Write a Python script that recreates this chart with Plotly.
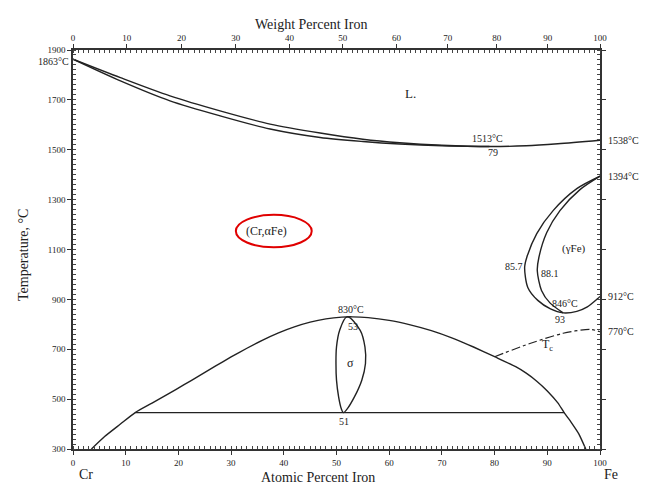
import plotly.graph_objects as go

# Cr-Fe phase diagram (temperature vs. atomic percent iron)

# Liquidus and solidus
liq_x = [0, 9, 18.4, 27.9, 37.4, 46.9, 55, 62, 70, 79, 86, 92, 100]
liq_t = [1863, 1789, 1716, 1656, 1603, 1567, 1542, 1528, 1518, 1513, 1516, 1524, 1538]
sol_x = [0, 9, 18.4, 27.9, 37.4, 46.9, 55, 62, 70, 79]
sol_t = [1863, 1776, 1696, 1636, 1583, 1549, 1533, 1523, 1516, 1513]

# Gamma loop
gam_out_x = [100, 95.6, 91.1, 88.0, 86.1, 85.7, 86.3, 88.2, 90.6, 93, 95.6, 97.6, 99.5, 100]
gam_out_t = [1394, 1344, 1256, 1164, 1068, 1028, 948, 896, 862, 846, 852, 870, 902, 912]
gam_in_x = [100, 96.2, 92.4, 89.9, 88.4, 88.1, 88.9, 90.5, 93]
gam_in_t = [1394, 1340, 1256, 1168, 1068, 1015, 936, 886, 846]

# Sigma dome
dome_x = [3.5, 6, 9, 11.8, 15, 18, 21, 24, 27, 30, 33, 36, 39, 42, 45, 48, 51, 53,
          56, 60, 64, 68, 72, 76, 80, 84, 86, 88, 90, 92, 93.2, 94.6, 96, 97.3]
dome_t = [300, 350, 400, 446, 484, 520, 557, 594, 632, 669, 704, 737, 766, 790, 809, 822, 829, 830,
          827, 816, 798, 775, 745, 709, 670, 630, 604, 572, 533, 485, 446, 405, 360, 300]

# Sigma lens
lens_x = [52.0, 50.6, 50.0, 49.9, 50.0, 50.4, 50.9, 51.3, 52.0, 53.4, 54.8, 55.5, 55.4, 54.5, 52.0]
lens_t = [830, 776, 709, 643, 576, 509, 462, 446, 460, 509, 576, 643, 709, 776, 830]

# Eutectoid line
eut_x = [11.8, 93.2]
eut_t = [446, 446]

# Curie temperature line
tc_x = [80.0, 86.7, 93, 98.1, 100]
tc_t = [670, 723, 764, 780, 770]

# Axis ticks
at_ticks = [0, 10, 20, 30, 40, 50, 60, 70, 80, 90, 100]
wt_tick_pos = [0, 10.2, 20.6, 30.9, 41.1, 51.2, 61.4, 71.1, 80.4, 90.1, 100]
wt_tick_text = ["0", "10", "20", "30", "40", "50", "60", "70", "80", "90", "100"]
t_ticks = [300, 500, 700, 900, 1100, 1300, 1500, 1700, 1900]

INK = "#222222"
SERIF = "Liberation Serif"

fig = go.Figure()


def curve(x, y, dash="solid", smooth=0.8, width=1.4):
    fig.add_trace(go.Scatter(x=x, y=y, mode="lines", hoverinfo="skip",
                             line=dict(color=INK, width=width, dash=dash,
                                       shape="spline", smoothing=smooth)))


curve(liq_x, liq_t)
curve(sol_x, sol_t)
curve(gam_out_x, gam_out_t)
curve(gam_in_x, gam_in_t)
curve(dome_x, dome_t, smooth=0.6)
curve(lens_x, lens_t, smooth=1.0)
curve(eut_x, eut_t, width=1.2)
curve(tc_x, tc_t, dash="dashdot", width=1.2)

# invisible trace to carry the weight-percent axis
fig.add_trace(go.Scatter(x=[0, 100], y=[300, 300], xaxis="x2", mode="lines",
                         line=dict(width=0), hoverinfo="skip", showlegend=False))

ann = []


def label(x, y, text, size=10, xanchor="center", **kw):
    ann.append(dict(x=x, y=y, text=text, showarrow=False, xanchor=xanchor,
                    font=dict(family=SERIF, size=size, color=INK), **kw))


# phase labels inside the plot
label(64.1, 1724, "L.", size=13)
label(78.7, 1547, "1513°C", size=10)
label(79.7, 1490, "79", size=10)
label(36.75, 1173, "(Cr,αFe)", size=12)
label(95.1, 1105, "(γFe)", size=11)
label(83.7, 1030, "85.7", size=10)
label(90.5, 1005, "88.1", size=10)
label(93.4, 884, "846°C", size=10)
label(92.4, 820, "93", size=10)
label(52.8, 860, "830°C", size=10)
label(53.1, 793, "53", size=10)
label(52.6, 646, "σ", size=12)
label(51.5, 410, "51", size=10)
label(90.1, 717, "T<sub>c</sub>", size=12)

# temperatures on the Fe side
for tv, txt in [(1538, "1538°C"), (1394, "1394°C"), (912, "912°C"), (770, "770°C")]:
    label(100, tv, txt, size=10, xanchor="left", xshift=6)

# melting point of Cr
label(0, 1863, "1863°C", size=10, xanchor="right", xshift=-2, yshift=-2)

# axis titles and element names
label(0.452, 1.088, "Weight Percent Iron", size=14, xref="paper", yref="paper")
label(0.465, -0.095, "Atomic Percent Iron", size=14, xref="paper", yref="paper")
label(0.025, -0.088, "Cr", size=14, xref="paper", yref="paper")
label(1.021, -0.088, "Fe", size=14, xref="paper", yref="paper")
label(-0.095, 0.486, "Temperature, °C", size=14, xref="paper", yref="paper", textangle=-90)

axis_common = dict(showline=True, linecolor="#333333", linewidth=1.5, showgrid=False,
                   zeroline=False, ticks="outside", ticklen=4, tickcolor="#333333",
                   tickfont=dict(family=SERIF, size=9, color=INK))

fig.update_layout(
    width=645, height=494,
    margin=dict(l=73, r=45, t=50, b=45),
    plot_bgcolor="white", paper_bgcolor="white",
    showlegend=False,
    font=dict(family=SERIF, color=INK),
    annotations=ann,
    xaxis=dict(range=[0, 100], tickvals=at_ticks, mirror=False,
               minor=dict(dtick=1, ticks="inside", ticklen=3, tickcolor="#444444"),
               **axis_common),
    xaxis2=dict(range=[0, 100], overlaying="x", side="top", anchor="y",
                tickvals=wt_tick_pos, ticktext=wt_tick_text,
                minor=dict(dtick=1, ticks="inside", ticklen=3, tickcolor="#444444"),
                **axis_common),
    yaxis=dict(range=[300, 1900], tickvals=t_ticks, mirror="ticks",
               minor=dict(dtick=20, ticks="inside", ticklen=3, tickcolor="#444444"),
               **axis_common),
    shapes=[dict(type="circle", xref="x", yref="y", x0=30.9, x1=45.3, y0=1109, y1=1239,
                 line=dict(color="#e00000", width=2))],
)

fig.write_html("out.html")
